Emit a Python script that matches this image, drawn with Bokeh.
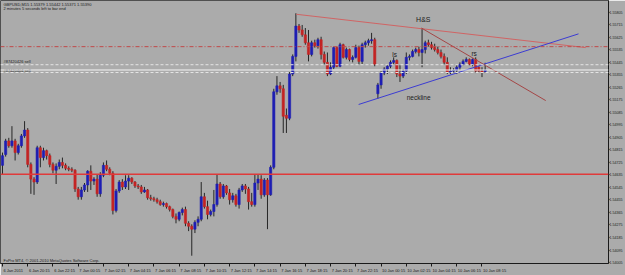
from bokeh.plotting import figure
from bokeh.models import (Range1d, LinearAxis, FixedTicker, PrintfTickFormatter,
                          Span, Label, ColumnDataSource)
from bokeh.core.properties import value
from bokeh.embed import file_html
from bokeh.resources import INLINE

# ---- GBPUSD M15 candles ----
opens = [
    1.54704, 1.54782, 1.54880, 1.54845, 1.54880, 1.54796, 1.54845, 1.54916, 1.54958, 1.54711,
    1.54605, 1.54584, 1.54831, 1.54760, 1.54810, 1.54774, 1.54711, 1.54669, 1.54697, 1.54725,
    1.54704, 1.54683, 1.54676, 1.54669, 1.54534, 1.54478, 1.54527, 1.54563, 1.54662, 1.54591,
    1.54605, 1.54499, 1.54633, 1.54704, 1.54676, 1.54647, 1.54379, 1.54520, 1.54584, 1.54549,
    1.54591, 1.54612, 1.54584, 1.54556, 1.54549, 1.54513, 1.54527, 1.54471, 1.54464, 1.54457,
    1.54443, 1.54422, 1.54429, 1.54407, 1.54386, 1.54337, 1.54316, 1.54365, 1.54386, 1.54287,
    1.54266, 1.54245, 1.54294, 1.54316, 1.54478, 1.54407, 1.54351, 1.54372, 1.54422, 1.54570,
    1.54478, 1.54556, 1.54506, 1.54457, 1.54485, 1.54422, 1.54527, 1.54556, 1.54534, 1.54443,
    1.54422, 1.54577, 1.54605, 1.54492, 1.54598, 1.54492, 1.54690, 1.55233, 1.55276, 1.55255,
    1.55064, 1.55043, 1.55361, 1.55488, 1.55706, 1.55678, 1.55643, 1.55586, 1.55502, 1.55586,
    1.55565, 1.55608, 1.55502, 1.55445, 1.55361, 1.55410, 1.55551, 1.55417, 1.55572, 1.55481,
    1.55537, 1.55466, 1.55481, 1.55551, 1.55452, 1.55572, 1.55586, 1.55601, 1.55608, 1.55219,
    1.55283, 1.55368, 1.55396, 1.55417, 1.55445, 1.55459, 1.55361, 1.55346, 1.55382, 1.55481,
    1.55488, 1.55523, 1.55537, 1.55516, 1.55537, 1.55586, 1.55572, 1.55551, 1.55537, 1.55516,
    1.55488, 1.55445, 1.55375, 1.55382, 1.55389, 1.55410, 1.55431, 1.55452, 1.55466, 1.55431,
    1.55466, 1.55410, 1.55382, 1.55379]
highs = [
    1.54796, 1.54895, 1.54902, 1.54986, 1.54895, 1.54859, 1.54930, 1.55022, 1.54972, 1.54725,
    1.54619, 1.54845, 1.54845, 1.54831, 1.54817, 1.54789, 1.54725, 1.54718, 1.54746, 1.54760,
    1.54718, 1.54697, 1.54690, 1.54676, 1.54549, 1.54549, 1.54577, 1.54669, 1.54704, 1.54619,
    1.54640, 1.54655, 1.54725, 1.54739, 1.54690, 1.54662, 1.54534, 1.54598, 1.54605, 1.54633,
    1.54633, 1.54619, 1.54591, 1.54570, 1.54563, 1.54549, 1.54534, 1.54492, 1.54478, 1.54471,
    1.54457, 1.54443, 1.54436, 1.54414, 1.54393, 1.54358, 1.54372, 1.54400, 1.54407, 1.54302,
    1.54280, 1.54309, 1.54337, 1.54584, 1.54506, 1.54450, 1.54386, 1.54527, 1.54640, 1.54584,
    1.54570, 1.54563, 1.54534, 1.54506, 1.54499, 1.54542, 1.54570, 1.54570, 1.54549, 1.54506,
    1.54640, 1.54640, 1.54633, 1.54612, 1.54612, 1.54704, 1.55255, 1.55346, 1.55304, 1.55283,
    1.55113, 1.55375, 1.55502, 1.55798, 1.55721, 1.55714, 1.55692, 1.55678, 1.55601, 1.55608,
    1.55622, 1.55629, 1.55523, 1.55516, 1.55445, 1.55558, 1.55558, 1.55586, 1.55579, 1.55551,
    1.55544, 1.55495, 1.55572, 1.55565, 1.55586, 1.55601, 1.55615, 1.55657, 1.55622, 1.55297,
    1.55382, 1.55410, 1.55431, 1.55459, 1.55481, 1.55466, 1.55424, 1.55396, 1.55516, 1.55502,
    1.55537, 1.55551, 1.55558, 1.55692, 1.55601, 1.55608, 1.55593, 1.55579, 1.55558, 1.55537,
    1.55509, 1.55481, 1.55410, 1.55403, 1.55424, 1.55445, 1.55466, 1.55481, 1.55473, 1.55473,
    1.55481, 1.55417, 1.55410, 1.55442]
lows = [
    1.54640, 1.54767, 1.54831, 1.54831, 1.54739, 1.54782, 1.54831, 1.54902, 1.54690, 1.54499,
    1.54492, 1.54570, 1.54690, 1.54739, 1.54746, 1.54690, 1.54647, 1.54570, 1.54676, 1.54683,
    1.54669, 1.54662, 1.54655, 1.54513, 1.54457, 1.54457, 1.54513, 1.54513, 1.54527, 1.54563,
    1.54478, 1.54478, 1.54619, 1.54662, 1.54633, 1.54351, 1.54365, 1.54506, 1.54527, 1.54534,
    1.54527, 1.54570, 1.54542, 1.54534, 1.54499, 1.54506, 1.54457, 1.54450, 1.54443, 1.54429,
    1.54414, 1.54407, 1.54393, 1.54372, 1.54323, 1.54287, 1.54302, 1.54344, 1.54266, 1.54231,
    1.54054, 1.54217, 1.54266, 1.54302, 1.54393, 1.54316, 1.54337, 1.54337, 1.54407, 1.54464,
    1.54464, 1.54492, 1.54422, 1.54436, 1.54407, 1.54393, 1.54513, 1.54499, 1.54386, 1.54407,
    1.54407, 1.54527, 1.54464, 1.54478, 1.54245, 1.54485, 1.54676, 1.55212, 1.55226, 1.54937,
    1.54937, 1.55029, 1.55346, 1.55452, 1.55657, 1.55629, 1.55572, 1.55452, 1.55488, 1.55551,
    1.55544, 1.55466, 1.55431, 1.55346, 1.55353, 1.55396, 1.55410, 1.55410, 1.55473, 1.55466,
    1.55452, 1.55445, 1.55473, 1.55431, 1.55431, 1.55551, 1.55565, 1.55579, 1.55417, 1.55184,
    1.55255, 1.55353, 1.55361, 1.55403, 1.55431, 1.55339, 1.55304, 1.55332, 1.55361, 1.55459,
    1.55481, 1.55509, 1.55488, 1.55410, 1.55509, 1.55558, 1.55537, 1.55523, 1.55502, 1.55473,
    1.55431, 1.55361, 1.55361, 1.55368, 1.55361, 1.55389, 1.55424, 1.55445, 1.55424, 1.55417,
    1.55368, 1.55375, 1.55339, 1.55371]
closes = [
    1.54774, 1.54880, 1.54845, 1.54880, 1.54796, 1.54845, 1.54916, 1.54958, 1.54711, 1.54605,
    1.54584, 1.54831, 1.54760, 1.54810, 1.54774, 1.54711, 1.54669, 1.54697, 1.54725, 1.54704,
    1.54683, 1.54676, 1.54669, 1.54534, 1.54478, 1.54527, 1.54563, 1.54662, 1.54591, 1.54605,
    1.54499, 1.54633, 1.54704, 1.54676, 1.54647, 1.54379, 1.54520, 1.54584, 1.54549, 1.54591,
    1.54612, 1.54584, 1.54556, 1.54549, 1.54513, 1.54527, 1.54471, 1.54464, 1.54457, 1.54443,
    1.54422, 1.54429, 1.54407, 1.54386, 1.54337, 1.54316, 1.54365, 1.54386, 1.54287, 1.54266,
    1.54245, 1.54294, 1.54316, 1.54478, 1.54407, 1.54351, 1.54372, 1.54422, 1.54570, 1.54478,
    1.54556, 1.54506, 1.54457, 1.54485, 1.54422, 1.54527, 1.54556, 1.54534, 1.54443, 1.54422,
    1.54577, 1.54605, 1.54492, 1.54598, 1.54492, 1.54690, 1.55233, 1.55276, 1.55255, 1.55057,
    1.55043, 1.55361, 1.55488, 1.55706, 1.55678, 1.55643, 1.55586, 1.55502, 1.55586, 1.55565,
    1.55608, 1.55502, 1.55445, 1.55361, 1.55410, 1.55551, 1.55417, 1.55572, 1.55481, 1.55537,
    1.55466, 1.55481, 1.55551, 1.55452, 1.55572, 1.55586, 1.55601, 1.55608, 1.55431, 1.55283,
    1.55368, 1.55396, 1.55417, 1.55445, 1.55459, 1.55361, 1.55346, 1.55382, 1.55481, 1.55488,
    1.55523, 1.55537, 1.55516, 1.55537, 1.55586, 1.55572, 1.55551, 1.55537, 1.55516, 1.55488,
    1.55445, 1.55375, 1.55382, 1.55389, 1.55410, 1.55431, 1.55452, 1.55466, 1.55431, 1.55466,
    1.55382, 1.55382, 1.55375, 1.55390]

time_labels = ["6 Jan 2011", "6 Jan 20:15", "6 Jan 22:15", "7 Jan 00:15", "7 Jan 02:15",
               "7 Jan 04:15", "7 Jan 06:15", "7 Jan 08:15", "7 Jan 10:15", "7 Jan 12:15",
               "7 Jan 14:15", "7 Jan 16:15", "7 Jan 18:15", "7 Jan 20:15", "7 Jan 22:15",
               "10 Jan 00:15", "10 Jan 02:15", "10 Jan 04:15", "10 Jan 06:15", "10 Jan 08:15"]
price_ticks = [1.54005, 1.54095, 1.54185, 1.54275, 1.54365, 1.54455, 1.54545, 1.54635,
               1.54725, 1.54815, 1.54905, 1.54995, 1.55085, 1.55175, 1.55265, 1.55355,
               1.55445, 1.55535, 1.55625, 1.55715, 1.55805]

# horizontal levels
tp_level = 1.55558
order_levels = [1.55428, 1.55372]
order_names = ["#87420426 sell", "#87420404 sell"]
bid_price = 1.55390
alert_level = 1.54640

# trend lines (bar index, price)
resist_x, resist_y = [93.1, 184.9], [1.55791, 1.55551]
neck_x, neck_y = [112.9, 182.6], [1.55142, 1.55650]
head_x, head_y = [132.8, 172.2], [1.55692, 1.55170]

# pattern annotations
pat_text = ["H&S", "ls", "rs", "neckline"]
pat_x = [133.4, 124.3, 149.5, 131.9]
pat_y = [1.55756, 1.55502, 1.55509, 1.55191]
pat_size = ["7px", "6.5px", "6.5px", "6.5px"]

header1 = "GBPUSD,M15  1.55379 1.55442 1.55371 1.55390"
header2 = "2 minutes 5 seconds left to bar end"
footer = "FxPro MT4, \u00a9 2001-2010 MetaQuotes Software Corp."

BG = "#ABABAB"
FONT = "Liberation Sans"
INK = "#1A1A1A"

n = len(closes)
bar_idx = list(range(n))
src = ColumnDataSource(dict(
    x=bar_idx, h=highs, l=lows,
    top=[max(o, c) for o, c in zip(opens, closes)],
    bot=[min(o, c) for o, c in zip(opens, closes)],
    col=["#1E1EB4" if c >= o else "#C42424" for o, c in zip(opens, closes)],
))

p = figure(width=625, height=275, x_range=Range1d(-0.63, 192.1),
           y_range=Range1d(1.53998, 1.55890), output_backend="svg",
           toolbar_location=None, x_axis_location=None, y_axis_location=None,
           min_border_left=0, min_border_top=0, min_border_right=0, min_border_bottom=0)
p.background_fill_color = BG
p.border_fill_color = BG
p.outline_line_color = "#505050"
for g in p.grid:
    g.visible = False

# right price axis
yax = LinearAxis(ticker=FixedTicker(ticks=price_ticks),
                 formatter=PrintfTickFormatter(format="%.5f"),
                 major_label_text_font_size="3.6px", major_label_text_font=FONT,
                 major_label_text_color=INK, major_label_standoff=0,
                 major_tick_out=1, major_tick_in=0, minor_tick_out=0, minor_tick_in=0,
                 axis_line_color=INK, major_tick_line_color=INK)
p.add_layout(yax, "right")

# bottom time axis: labels start right after their tick (MT4 style)
tick_bars = list(range(0, n, 8))[:len(time_labels)]
label_pos = [round(b + (1.85 * len(t) / 2 + 1.5) / 3.17, 3) for b, t in zip(tick_bars, time_labels)]
xax = LinearAxis(ticker=FixedTicker(ticks=label_pos, minor_ticks=tick_bars),
                 major_label_overrides={pos: t for pos, t in zip(label_pos, time_labels)},
                 major_label_text_font_size="4px", major_label_text_font=FONT,
                 major_label_text_color=INK, major_label_standoff=1,
                 major_tick_out=0, major_tick_in=0, minor_tick_out=3, minor_tick_in=0,
                 axis_line_color=INK, minor_tick_line_color=INK)
p.add_layout(xax, "below")

# levels
p.add_layout(Span(location=alert_level, dimension="width", line_color="#E03A3A", line_width=1.5))
p.add_layout(Span(location=tp_level, dimension="width", line_color="#C04A4A",
                  line_width=1, line_dash="4 2 1 2"))
for lv in order_levels:
    p.add_layout(Span(location=lv, dimension="width", line_color="#E4E4E4",
                      line_width=1, line_dash="3 2"))
p.add_layout(Span(location=bid_price, dimension="width", line_color="#F4F4F4", line_width=1))

# candles
p.segment(x0="x", y0="h", x1="x", y1="l", source=src, line_color="#262626", line_width=1)
p.vbar(x="x", width=0.7, top="top", bottom="bot", source=src,
       fill_color="col", line_color="col", line_width=0.6)

# trend lines
p.line(resist_x, resist_y, line_color="#D06464", line_width=1)
p.line(neck_x, neck_y, line_color="#3C3CD2", line_width=1)
p.line(head_x, head_y, line_color="#A44646", line_width=1)

# pattern labels
p.text(x=pat_x, y=pat_y, text=pat_text, text_font=value(FONT), text_font_size=pat_size,
       text_color="#202020", text_align="center", text_baseline="middle")

# chart texts
p.text(x=[0.3, 0.3], y=[1.55862, 1.55830], text=[header1, header2], text_font=value(FONT),
       text_font_size="4px", text_color=INK, text_align="left", text_baseline="middle")
p.text(x=[0.3, 0.3], y=[1.55449, 1.55389], text=order_names, text_font=value(FONT),
       text_font_size="4px", text_color=INK, text_align="left", text_baseline="middle")
p.text(x=[0.3], y=[1.54023], text=[footer], text_font=value(FONT),
       text_font_size="4px", text_color=INK, text_align="left", text_baseline="middle")

# price boxes on the axis
p.add_layout(Label(x=192.3, y=bid_price, text="%.5f" % bid_price, text_font=FONT,
                   text_font_size="3.6px", text_color="white", text_baseline="middle",
                   text_align="left", background_fill_color="black"))
p.add_layout(Label(x=192.3, y=alert_level, text="%.5f" % alert_level, text_font=FONT,
                   text_font_size="3.6px", text_color="#FFE0E0", text_baseline="middle",
                   text_align="left", background_fill_color="#E03A3A"))

open("out.html", "w").write(file_html(p, INLINE))
